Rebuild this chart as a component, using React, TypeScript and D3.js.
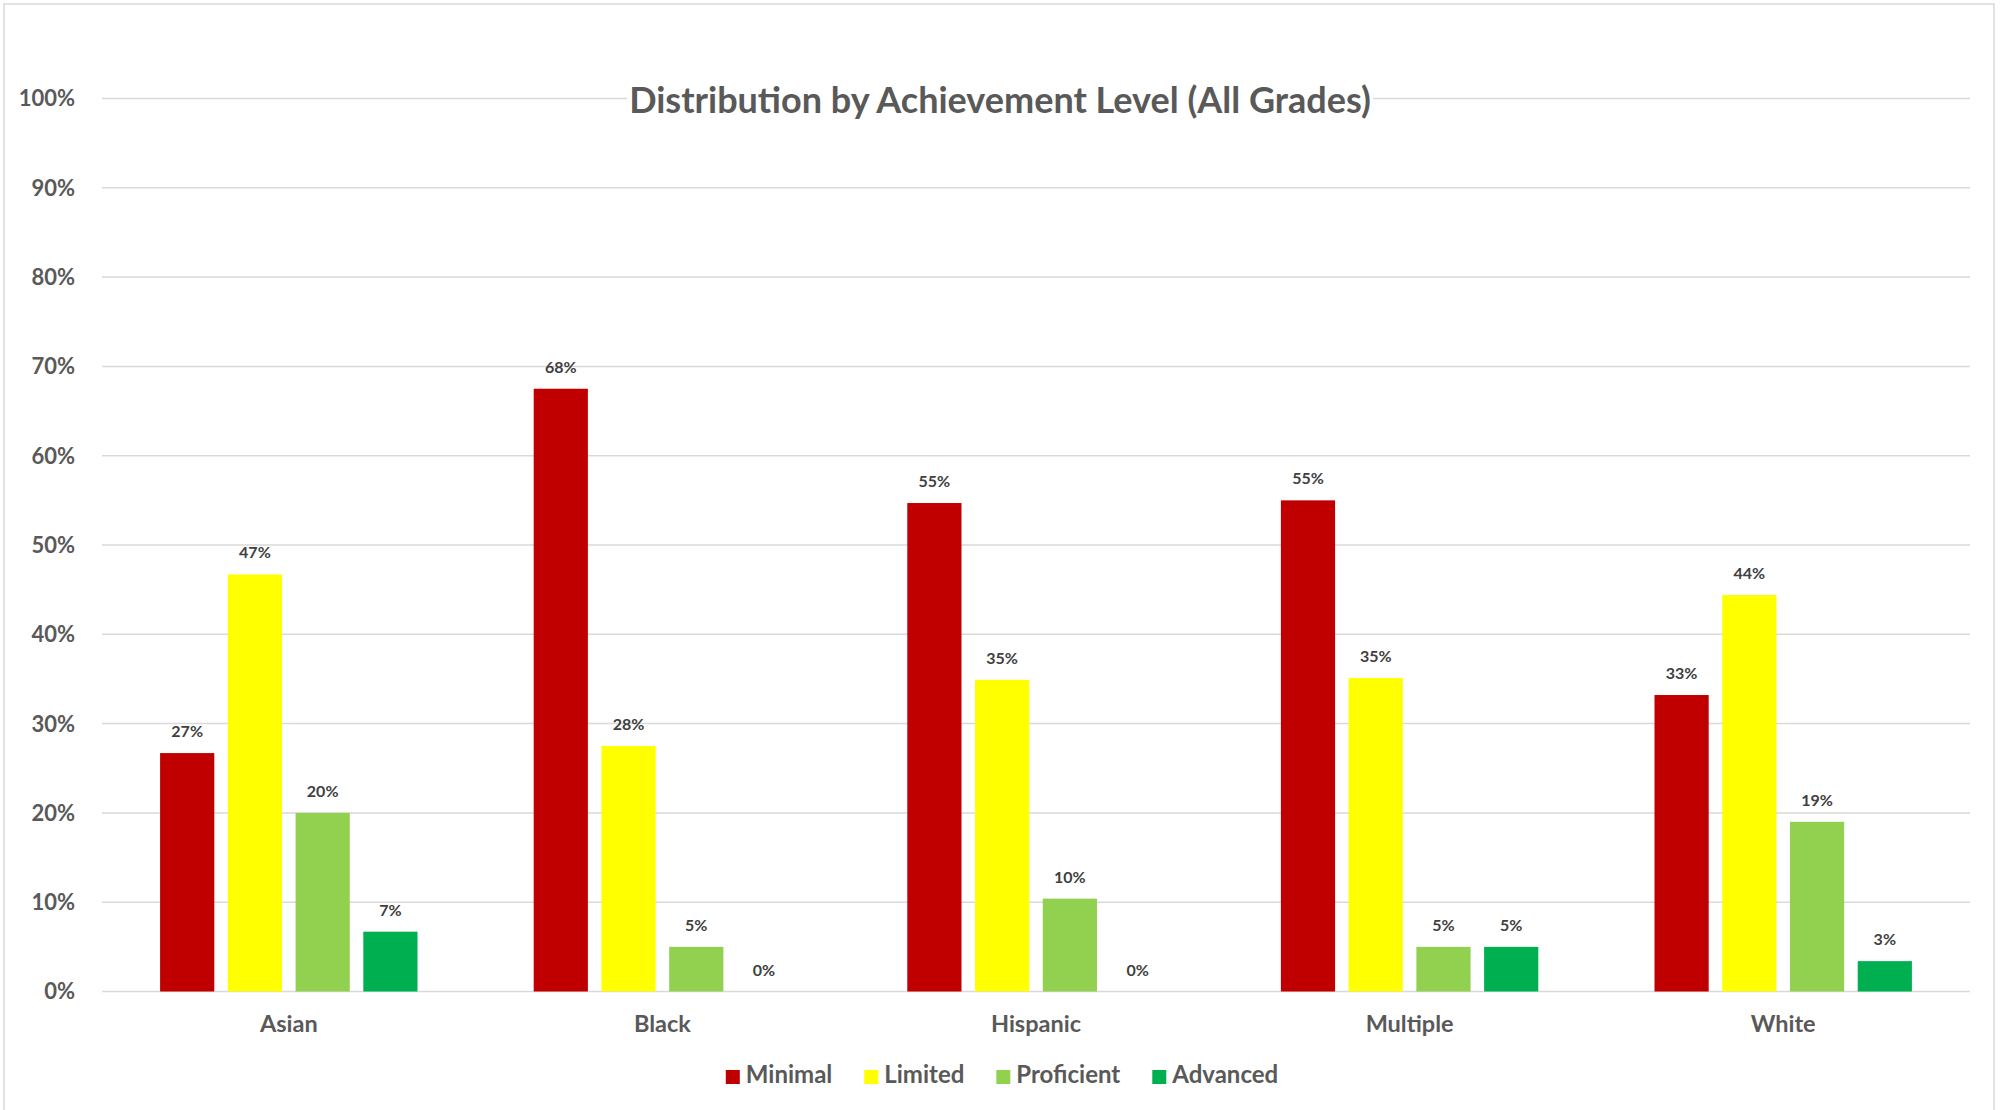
import React, { useEffect, useRef } from "react";
import * as d3 from "d3";

const categories = ["Asian", "Black", "Hispanic", "Multiple", "White"];
const seriesNames = ["Minimal", "Limited", "Proficient", "Advanced"];
const seriesColors = ["#C00000", "#FFFF00", "#92D050", "#00B050"];
const minimalValues = [0.267, 0.675, 0.547, 0.55, 0.332];
const limitedValues = [0.467, 0.275, 0.349, 0.351, 0.444];
const proficientValues = [0.2, 0.05, 0.104, 0.05, 0.19];
const advancedValues = [0.067, 0, 0, 0.05, 0.034];
const yTicks = [0, 0.1, 0.2, 0.3, 0.4, 0.5, 0.6, 0.7, 0.8, 0.9, 1.0];
const titleText = "Distribution by Achievement Level (All Grades)";

const W = 2007;
const H = 1110;
const FONT = "Lato, 'Open Sans', sans-serif";

export default function App() {
  const ref = useRef<SVGSVGElement>(null);

  useEffect(() => {
    const svg = d3.select(ref.current);
    svg.selectAll("*").remove();
    const values = [minimalValues, limitedValues, proficientValues, advancedValues];

    const left = 102, right = 1970, top = 98.5, bottom = 991.5;

    // chart border
    svg.append("rect").attr("x", 4).attr("y", 4).attr("width", 1990).attr("height", 1110)
      .attr("fill", "#fff").attr("stroke", "#d9d9d9").attr("stroke-width", 1.5);

    const y = d3.scaleLinear().domain([0, 1]).range([bottom, top]);
    const x0 = d3.scaleBand<string>().domain(categories).range([left, right])
      .paddingInner(0.311).paddingOuter(0.1555);
    const x1 = d3.scaleBand<string>().domain(seriesNames).range([0, x0.bandwidth()])
      .paddingInner(0.2).paddingOuter(0);

    // gridlines
    svg.append("g").selectAll("line").data(yTicks).join("line")
      .attr("x1", left).attr("x2", right)
      .attr("y1", (d) => y(d)).attr("y2", (d) => y(d))
      .attr("stroke", "#d9d9d9").attr("stroke-width", 1.5);

    // y tick labels
    svg.append("g").selectAll("text").data(yTicks).join("text")
      .attr("x", 75).attr("y", (d) => y(d)).attr("dy", "0.36em")
      .attr("text-anchor", "end").attr("font-family", FONT).attr("font-weight", 700)
      .attr("font-size", 22).attr("fill", "#595959")
      .text((d) => d3.format(".0%")(d));

    // bars
    const groups = svg.append("g").selectAll("g").data(categories).join("g")
      .attr("transform", (c) => `translate(${x0(c)},0)`);
    groups.each(function (c, ci) {
      const g = d3.select(this);
      seriesNames.forEach((s, si) => {
        const v = values[si][ci];
        g.append("rect").attr("x", x1(s)!).attr("width", x1.bandwidth())
          .attr("y", y(v)).attr("height", bottom - y(v)).attr("fill", seriesColors[si]);
        g.append("text").attr("x", x1(s)! + x1.bandwidth() / 2).attr("y", y(v) - 16)
          .attr("text-anchor", "middle").attr("font-family", FONT).attr("font-weight", 700)
          .attr("font-size", 16).attr("fill", "#404040")
          .text(d3.format(".0%")(v));
      });
    });

    // category labels
    svg.append("g").selectAll("text").data(categories).join("text")
      .attr("x", (c) => x0(c)! + x0.bandwidth() / 2).attr("y", 1032)
      .attr("text-anchor", "middle").attr("font-family", FONT).attr("font-weight", 700)
      .attr("font-size", 23.5).attr("fill", "#595959").text((c) => c);

    // title with white background
    const tg = svg.append("g");
    const tbg = tg.append("rect").attr("fill", "#fff");
    const tt = tg.append("text").attr("x", 1000).attr("y", 113).attr("text-anchor", "middle")
      .attr("font-family", FONT).attr("font-weight", 700).attr("font-size", 36)
      .attr("fill", "#595959").text(titleText);
    const bb = (tt.node() as SVGTextElement).getBBox();
    tbg.attr("x", bb.x - 2).attr("y", bb.y).attr("width", bb.width + 4).attr("height", bb.height);

    // legend
    const lg = svg.append("g");
    let cx = 0;
    seriesNames.forEach((s, si) => {
      const item = lg.append("g").attr("transform", `translate(${cx},0)`);
      item.append("rect").attr("x", 0).attr("y", 1070).attr("width", 14).attr("height", 14)
        .attr("fill", seriesColors[si]);
      const t = item.append("text").attr("x", 20).attr("y", 1083).attr("font-family", FONT)
        .attr("font-weight", 700).attr("font-size", 24).attr("fill", "#595959").text(s);
      const w = (t.node() as SVGTextElement).getComputedTextLength();
      cx += 20 + w + 32;
    });
    const totalW = cx - 32;
    lg.attr("transform", `translate(${1002 - totalW / 2},0)`);
  }, []);

  return (
    <svg ref={ref} width={W} height={H}
      style={{ position: "absolute", left: 0, top: 0, display: "block", background: "#fff" }} />
  );
}
